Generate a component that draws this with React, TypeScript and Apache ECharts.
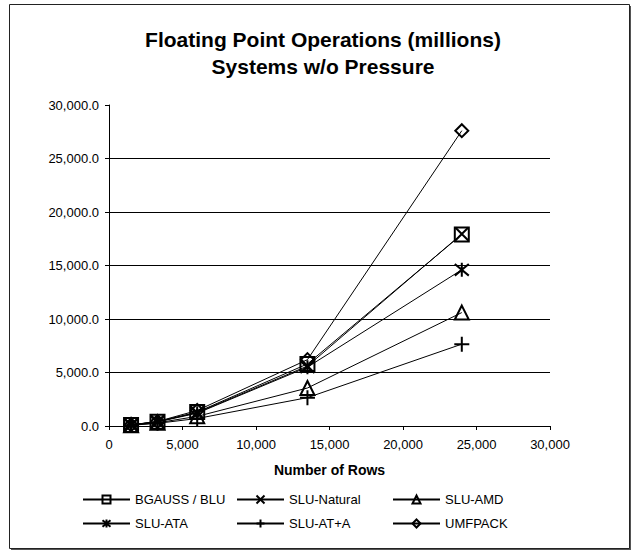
import React, { useEffect, useRef } from "react";
import * as echarts from "echarts";

// Number of rows in each test system
const rows = [1500, 3300, 6000, 13500, 24000];

// Floating point operations (millions) per solver
const bgaussBlu = [100, 400, 1300, 5800, 17900];
const sluNatural = [100, 400, 1250, 5600, 17950];
const sluAmd = [80, 300, 900, 3550, 10600];
const sluAta = [100, 380, 1200, 5500, 14600];
const sluAtA = [70, 250, 700, 2650, 7650];
const umfpack = [110, 420, 1450, 6200, 27600];

const seriesNames = ["BGAUSS / BLU", "SLU-Natural", "SLU-AMD", "SLU-ATA", "SLU-AT+A", "UMFPACK"];
const seriesValues = [bgaussBlu, sluNatural, sluAmd, sluAta, sluAtA, umfpack];

const symbols = [
  "rect",
  "path://M0,0L10,10M10,0L0,10",
  "triangle",
  "path://M0,0L10,10M10,0L0,10M5,-1L5,11",
  "path://M5,0L5,10M0,5L10,5",
  "diamond",
];
const symbolSizes = [14, 13, 14, 14, 15, 13];

const FONT = 'Arial, "Liberation Sans", sans-serif';

function withThousands(v: number, decimals: number): string {
  const fixed = v.toFixed(decimals);
  const [intPart, frac] = fixed.split(".");
  const grouped = intPart.replace(/\B(?=(\d{3})+(?!\d))/g, ",");
  return frac !== undefined ? grouped + "." + frac : grouped;
}

// Legend slots: two rows of three
const legendLefts = [82, 236, 392];
const legendTops = [493, 517];

export default function App() {
  const ref = useRef<HTMLDivElement>(null);

  useEffect(() => {
    if (!ref.current) return;
    const chart = echarts.init(ref.current, undefined, { renderer: "svg" });

    const series = seriesNames.map((name, i) => ({
      name,
      type: "line",
      data: rows.map((r, j) => [r, seriesValues[i][j]]),
      symbol: symbols[i],
      symbolSize: symbolSizes[i],
      showAllSymbol: true,
      color: "#000",
      lineStyle: { color: "#000", width: 1 },
      itemStyle: { color: "rgba(0,0,0,0)", borderColor: "#000", borderWidth: 2 },
      emphasis: { disabled: true },
      z: 3 + i,
    }));

    const legends = seriesNames.map((name, i) => ({
      data: [name],
      left: legendLefts[i % 3],
      top: legendTops[Math.floor(i / 3)],
      itemWidth: 47,
      itemHeight: 10,
      itemGap: 0,
      padding: 0,
      selectedMode: false,
      textStyle: { fontFamily: FONT, fontSize: 13, color: "#000" },
    }));

    chart.setOption({
      animation: false,
      backgroundColor: "#fff",
      textStyle: { fontFamily: FONT },
      graphic: [
        {
          type: "rect",
          shape: { x: 11, y: 6, width: 620, height: 544 },
          style: { fill: "#555" },
          z: -10,
        },
        {
          type: "rect",
          shape: { x: 9.5, y: 4.5, width: 620, height: 544 },
          style: { fill: "#fff", stroke: "#222", lineWidth: 1 },
          z: -9,
        },
      ],
      title: {
        text: "Floating Point Operations (millions)\nSystems w/o Pressure",
        left: 318,
        textAlign: "center",
        top: 21,
        textStyle: {
          fontFamily: FONT,
          fontSize: 21,
          fontWeight: "bold",
          color: "#000",
          lineHeight: 27,
        },
      },
      legend: legends,
      grid: { left: 109, right: 82, top: 105, bottom: 125, containLabel: false },
      xAxis: {
        type: "value",
        min: 0,
        max: 30000,
        interval: 5000,
        name: "Number of Rows",
        nameLocation: "middle",
        nameGap: 37,
        nameTextStyle: { fontFamily: FONT, fontSize: 14, fontWeight: "bold", color: "#000" },
        axisLine: { show: true, lineStyle: { color: "#000", width: 1 } },
        axisTick: { show: true, inside: false, length: 4, lineStyle: { color: "#000" } },
        axisLabel: {
          fontFamily: FONT,
          fontSize: 13,
          color: "#000",
          margin: 12,
          formatter: (v: number) => withThousands(v, 0),
        },
        splitLine: { show: false },
      },
      yAxis: {
        type: "value",
        min: 0,
        max: 30000,
        interval: 5000,
        axisLine: { show: true, lineStyle: { color: "#000", width: 1 } },
        axisTick: { show: true, inside: false, length: 4, lineStyle: { color: "#000" } },
        axisLabel: {
          fontFamily: FONT,
          fontSize: 13,
          color: "#000",
          margin: 10,
          formatter: (v: number) => withThousands(v, 1),
        },
        splitLine: {
          show: true,
          showMaxLine: false,
          lineStyle: { color: "#000", width: 1 },
        },
      },
      series,
    });

    return () => chart.dispose();
  }, []);

  return (
    <div
      ref={ref}
      style={{ position: "absolute", left: 0, top: 0, width: 632, height: 551 }}
    />
  );
}
